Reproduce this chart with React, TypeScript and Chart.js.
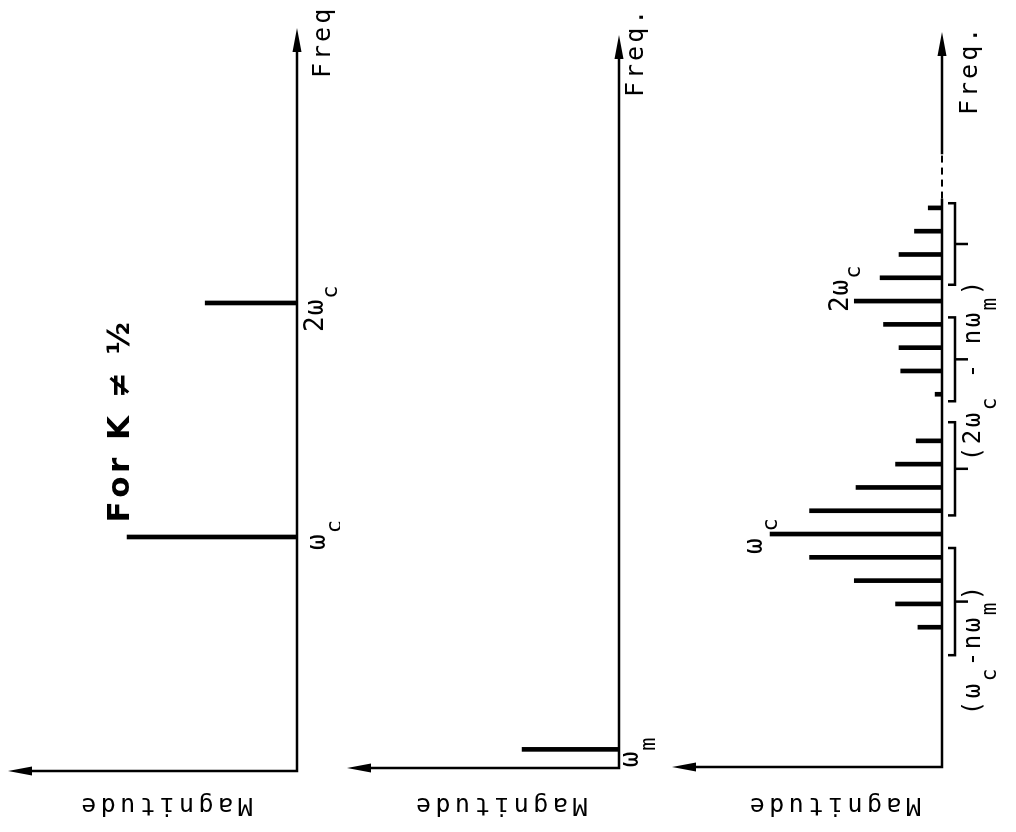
import React, { useEffect, useRef } from "react";
import { Chart, registerables } from "chart.js";
Chart.register(...registerables);

type Part = [string, boolean];

// ---------------- data ----------------
// Panel 1: carrier spectrum (For K ≠ ½)
const carrierFreqs = [10, 20]; // ω_c, 2ω_c (frequency units)
const carrierMags = [1.0, 0.54];
const carrierTicks: Part[][] = [
  [["ω", false], ["c", true]],
  [["2ω", false], ["c", true]],
];

// Panel 2: modulating signal
const modFreqs = [0.8]; // ω_m
const modMags = [0.57];
const modTicks: Part[][] = [[["ω", false], ["m", true]]];

// Panel 3: output spectrum
const outFreqs = [6, 7, 8, 9, 10, 11, 12, 13, 14, 16, 17, 18, 19, 20, 21, 22, 23, 24];
const outMags = [0.14, 0.27, 0.51, 0.77, 1.0, 0.77, 0.5, 0.27, 0.15, 0.04, 0.24, 0.25, 0.34, 0.51, 0.36, 0.25, 0.16, 0.08];
const outTickFreqs = [10, 20];
const outTicks: Part[][] = [
  [["ω", false], ["c", true]],
  [["2ω", false], ["c", true]],
];
const bracketStarts = [4.8, 10.8, 15.7, 20.7];
const bracketEnds = [9.4, 14.8, 19.3, 24.2];
const groupLabelFreqs = [5.0, 17.0];
const groupLabels: Part[][] = [
  [["(ω", false], ["c", true], ["-nω", false], ["m", true], [")", false]],
  [["(2ω", false], ["c", true], [" - nω", false], ["m", true], [")", false]],
];

const magTitle = "Magnitude";
const freqTitles = ["Freq", "Freq.", "Freq."];
const titleText = "For K ≠ ½";

// ---------------- drawing helpers ----------------
const MONO = '"DejaVu Sans Mono", "Liberation Mono", monospace';
const SANS = '"DejaVu Sans", "Liberation Sans", sans-serif';

interface LabelSpec {
  parts: Part[];
  f: number;
  m: number;
  dx: number;
  dy: number;
  align: "left" | "center";
  size: number;
  subSize?: number;
  subDrop?: number;
  spacing: number;
  rotate?: boolean;
  bold?: boolean;
  family?: string;
}

function fontFor(spec: LabelSpec, sub: boolean) {
  const sz = sub ? spec.subSize || spec.size : spec.size;
  return `${spec.bold ? "bold " : ""}${sz}px ${spec.family || MONO}`;
}

function drawRich(ctx: CanvasRenderingContext2D, spec: LabelSpec, x: number, y: number) {
  let w = 0;
  for (const [t, sub] of spec.parts) {
    ctx.font = fontFor(spec, sub);
    for (const ch of t) w += ctx.measureText(ch).width + spec.spacing;
  }
  w -= spec.spacing;
  let cx = spec.align === "center" ? x - w / 2 : x;
  ctx.textAlign = "left";
  ctx.textBaseline = "alphabetic";
  for (const [t, sub] of spec.parts) {
    ctx.font = fontFor(spec, sub);
    for (const ch of t) {
      ctx.fillText(ch, cx, sub ? y + (spec.subDrop || 0) : y);
      cx += ctx.measureText(ch).width + spec.spacing;
    }
  }
}

interface PanelCfg {
  id: string;
  height: number;
  padding: { left: number; right: number; top: number; bottom: number };
  xMax: number;
  yMax: number;
  freqs: number[];
  mags: number[];
  labels: LabelSpec[];
  brackets?: boolean;
  dash?: [number, number];
}

const tickBase = { align: "left" as const, size: 26, subSize: 22, spacing: 1 };
const freqBase = { align: "left" as const, size: 25, spacing: 3 };
const magBase = { align: "center" as const, size: 25, spacing: 4.5, rotate: true, dx: 0, f: 0 };

const panels: PanelCfg[] = [
  {
    id: "p1",
    height: 340,
    padding: { left: 61, right: 28, top: 8, bottom: 43 },
    xMax: 31.75,
    yMax: 1.7,
    freqs: carrierFreqs,
    mags: carrierMags,
    labels: [
      { ...tickBase, parts: carrierTicks[0], f: carrierFreqs[0], m: 0, dx: -13, dy: 28, subDrop: 16 },
      { ...tickBase, parts: carrierTicks[1], f: carrierFreqs[1], m: 0, dx: -29, dy: 26, subDrop: 14 },
      { ...freqBase, parts: [[freqTitles[0], false]], f: 31.75, m: 0, dx: -50, dy: 33 },
      { ...magBase, parts: [[magTitle, false]], m: 0.765, dx: -27, dy: 0 },
      {
        parts: [[titleText, false]], f: 14.9, m: 1.0, dx: 0, dy: 2, align: "center",
        size: 31, spacing: 3.5, bold: true, family: SANS,
      },
    ],
  },
  {
    id: "p2",
    height: 320,
    padding: { left: 64, right: 35, top: 7, bottom: 41 },
    xMax: 31.46,
    yMax: 1.6,
    freqs: modFreqs,
    mags: modMags,
    labels: [
      { ...tickBase, parts: modTicks[0], f: modFreqs[0], m: 0, dx: -18, dy: 19, subDrop: 17 },
      { ...freqBase, parts: [[freqTitles[1], false]], f: 31.46, m: 0, dx: -62, dy: 24 },
      { ...magBase, parts: [[magTitle, false]], m: 0.69, dx: -30, dy: 0 },
    ],
  },
  {
    id: "p3",
    height: 356,
    padding: { left: 65, right: 32, top: 12, bottom: 74 },
    xMax: 31.55,
    yMax: 1.57,
    freqs: outFreqs,
    mags: outMags,
    brackets: true,
    dash: [24.4, 26.3],
    labels: [
      {
        ...tickBase, parts: outTicks[0], f: outTickFreqs[0],
        m: outMags[outFreqs.indexOf(outTickFreqs[0])], dx: -20, dy: -8, subDrop: 15, spacing: 7,
      },
      {
        ...tickBase, parts: outTicks[1], f: outTickFreqs[1],
        m: outMags[outFreqs.indexOf(outTickFreqs[1])], dx: -11, dy: -6, subDrop: 12,
      },
      { ...freqBase, parts: [[freqTitles[2], false]], f: 31.55, m: 0, dx: -83, dy: 35 },
      { ...magBase, parts: [[magTitle, false]], m: 0.62, dx: -31, dy: 0 },
      {
        parts: groupLabels[0], f: groupLabelFreqs[0], m: 0, dx: 0, dy: 38, align: "center",
        size: 24, subSize: 21, subDrop: 16, spacing: 2.5,
      },
      {
        parts: groupLabels[1], f: groupLabelFreqs[1], m: 0, dx: 0, dy: 38, align: "center",
        size: 24, subSize: 21, subDrop: 16, spacing: 2.5,
      },
    ],
  },
];

function makePlugin(p: PanelCfg) {
  return {
    id: "deco_" + p.id,
    afterDraw(chart: any) {
      const ctx: CanvasRenderingContext2D = chart.ctx;
      const xs = chart.scales.x;
      const ys = chart.scales.y;
      const X = (f: number) => xs.getPixelForValue(f);
      const Y = (m: number) => ys.getPixelForValue(m);
      const ox = X(0);
      const oy = Y(0);
      const xe = X(p.xMax);
      const yt = Y(p.yMax);
      ctx.save();
      ctx.strokeStyle = "#000";
      ctx.fillStyle = "#000";
      ctx.lineWidth = 2.5;
      ctx.lineJoin = "miter";

      // axes
      ctx.beginPath();
      ctx.moveTo(ox, yt + 12);
      ctx.lineTo(ox, oy);
      if (p.dash) {
        ctx.lineTo(X(p.dash[0]), oy);
        ctx.stroke();
        ctx.save();
        ctx.setLineDash([7, 5]);
        ctx.lineWidth = 2;
        ctx.beginPath();
        ctx.moveTo(X(p.dash[0]), oy);
        ctx.lineTo(X(p.dash[1]), oy);
        ctx.stroke();
        ctx.restore();
        ctx.beginPath();
        ctx.moveTo(X(p.dash[1]), oy);
      }
      ctx.lineTo(xe - 12, oy);
      ctx.stroke();

      // arrow heads
      ctx.beginPath();
      ctx.moveTo(xe, oy);
      ctx.lineTo(xe - 24, oy - 4.5);
      ctx.lineTo(xe - 24, oy + 4.5);
      ctx.closePath();
      ctx.fill();
      ctx.beginPath();
      ctx.moveTo(ox, yt);
      ctx.lineTo(ox - 4.5, yt + 24);
      ctx.lineTo(ox + 4.5, yt + 24);
      ctx.closePath();
      ctx.fill();

      // brackets
      if (p.brackets) {
        const by = oy + 13;
        ctx.lineWidth = 2.5;
        for (let i = 0; i < bracketStarts.length; i++) {
          const a = X(bracketStarts[i]);
          const b = X(bracketEnds[i]);
          const mid = X((bracketStarts[i] + bracketEnds[i]) / 2);
          ctx.beginPath();
          ctx.moveTo(a, by - 7);
          ctx.lineTo(a, by);
          ctx.lineTo(b, by);
          ctx.lineTo(b, by - 7);
          ctx.stroke();
          ctx.beginPath();
          ctx.moveTo(mid, by);
          ctx.lineTo(mid, by + 13);
          ctx.stroke();
        }
      }

      // labels
      for (const l of p.labels) {
        const x = X(l.f) + l.dx;
        const y = Y(l.m) + l.dy;
        if (l.rotate) {
          ctx.save();
          ctx.translate(x, y);
          ctx.rotate(-Math.PI / 2);
          drawRich(ctx, l, 0, 0);
          ctx.restore();
        } else {
          drawRich(ctx, l, x, y);
        }
      }
      ctx.restore();
    },
  };
}

function Panel({ cfg }: { cfg: PanelCfg }) {
  const ref = useRef<HTMLCanvasElement | null>(null);
  useEffect(() => {
    if (!ref.current) return;
    const chart = new Chart(ref.current, {
      type: "bar",
      data: {
        datasets: [
          {
            data: cfg.freqs.map((f, i) => ({ x: f, y: cfg.mags[i] })),
            backgroundColor: "#000",
            borderWidth: 0,
            barThickness: 4,
          },
        ],
      },
      options: {
        animation: false,
        responsive: false,
        devicePixelRatio: 1,
        layout: { padding: cfg.padding },
        plugins: { legend: { display: false }, tooltip: { enabled: false } },
        scales: {
          x: { type: "linear", min: 0, max: cfg.xMax, offset: false, display: false },
          y: { type: "linear", min: 0, max: cfg.yMax, display: false },
        },
      } as any,
      plugins: [makePlugin(cfg)],
    });
    return () => chart.destroy();
  }, [cfg]);
  return <canvas ref={ref} width={832} height={cfg.height} style={{ display: "block" }} />;
}

export default function App() {
  return (
    <div
      style={{
        position: "fixed",
        left: 0,
        top: 0,
        width: 832,
        height: 1016,
        background: "#fff",
        transformOrigin: "0 0",
        transform: "translate(0px, 832px) rotate(-90deg)",
      }}
    >
      {panels.map((p) => (
        <Panel key={p.id} cfg={p} />
      ))}
    </div>
  );
}
